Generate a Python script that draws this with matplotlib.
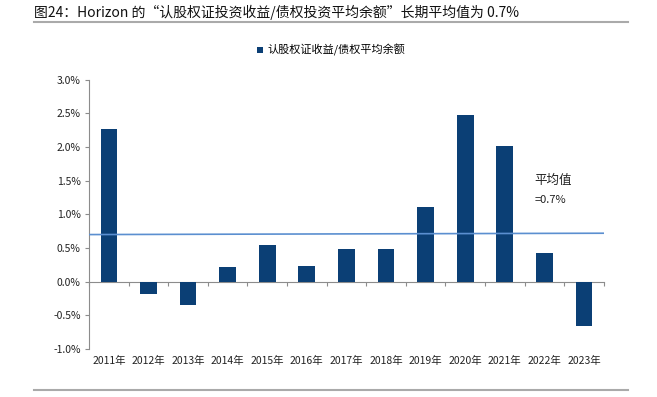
import numpy as np
import matplotlib.pyplot as plt

plt.rcParams['font.family'] = ['Noto Sans CJK SC', 'DejaVu Sans']

years = ['2011年', '2012年', '2013年', '2014年', '2015年', '2016年', '2017年',
         '2018年', '2019年', '2020年', '2021年', '2022年', '2023年']
ratio = [2.27, -0.18, -0.34, 0.22, 0.54, 0.24, 0.49, 0.48, 1.11, 2.48, 2.01, 0.43, -0.66]
avg_line = [0.70, 0.72]   # 平均值线 (左端, 右端)
yticks = [-1.0, -0.5, 0.0, 0.5, 1.0, 1.5, 2.0, 2.5, 3.0]

bar_color = '#0b3f75'
line_color = '#5b8fd0'
grey = '#8c8c8c'

fig = plt.figure(figsize=(6.57, 3.97), dpi=100)
ax = fig.add_axes([0.1355, 0.121, 0.7835, 0.678])

x = np.arange(len(years))
ax.bar(x, ratio, width=0.42, color=bar_color, label='认股权证收益/债权平均余额', zorder=3)
ax.plot([-0.5, len(years) - 0.5], avg_line, color=line_color, lw=1.2, zorder=4)

ax.set_xlim(-0.5, len(years) - 0.5)
ax.set_ylim(-1.0, 3.0)
ax.set_yticks(yticks)
ax.set_yticklabels([f'{v:.1f}%' for v in yticks], fontsize=7.5, color='#222222')
ax.set_xticks(x)
ax.set_xticklabels(years, fontsize=7.5, color='#222222')
ax.tick_params(axis='x', length=0, pad=5)
ax.tick_params(axis='y', length=3, color=grey, direction='out', pad=3)

for s in ['top', 'right', 'bottom']:
    ax.spines[s].set_visible(False)
ax.spines['left'].set_color(grey)

# zero axis with category boundary ticks
zero = ax.secondary_xaxis(0.25)
zero.set_xticks(np.arange(len(years) + 1) - 0.5)
zero.set_xticklabels([])
zero.tick_params(length=3, color=grey, direction='out')
zero.spines['bottom'].set_color(grey)

ax.text(10.75, 1.45, '平均值', fontsize=9, color='#222222')
ax.text(10.75, 1.17, '=0.7%', fontsize=8, color='#222222')

ax.legend(loc='center', bbox_to_anchor=(0.47, 1.11), frameon=False,
          fontsize=8, handlelength=0.5, handleheight=0.5, handletextpad=0.4)

fig.text(0.052, 0.97, '图24：Horizon 的“认股权证投资收益/债权投资平均余额”长期平均值为 0.7%',
         fontsize=10, va='center', ha='left', color='#111111')
fig.add_artist(plt.Line2D([0.052, 0.956], [0.944, 0.944], color='#aaaaaa', lw=1.5))
fig.add_artist(plt.Line2D([0.052, 0.956], [0.018, 0.018], color='#aaaaaa', lw=1.5))

fig.savefig('out.png', dpi=100)
